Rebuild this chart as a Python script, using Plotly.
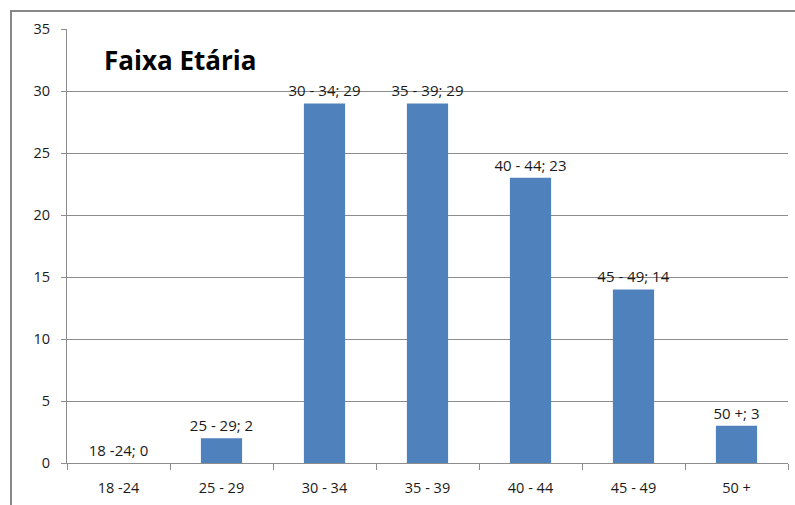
import plotly.graph_objects as go

categories = ["18 -24", "25 - 29", "30 - 34", "35 - 39", "40 - 44", "45 - 49", "50 +"]
values = [0, 2, 29, 29, 23, 14, 3]
y_ticks = [0, 5, 10, 15, 20, 25, 30, 35]
title_text = "Faixa Etária"

FONT = "Open Sans, DejaVu Sans, sans-serif"
labels = [f"{c}; {v}" for c, v in zip(categories, values)]
TXT = "#1a1a1a"

fig = go.Figure(go.Bar(
    x=categories, y=values,
    marker=dict(color="#4F81BD", line=dict(width=0)),
    text=labels, textposition="outside", cliponaxis=False, constraintext="none",
    textfont=dict(family=FONT, size=15, color=TXT),
))

fig.update_layout(
    width=795, height=505,
    margin=dict(l=67, r=7, t=29, b=42),
    paper_bgcolor="white", plot_bgcolor="white",
    bargap=0.6, showlegend=False,
    font=dict(family=FONT, size=14.5, color=TXT),
    xaxis=dict(
        type="category", showgrid=False, showline=True, linecolor="#8c8c8c", linewidth=1,
        ticks="outside", tickson="boundaries", ticklen=6, tickcolor="#8c8c8c",
        ticklabelstandoff=12,
        tickfont=dict(family=FONT, size=14.5, color=TXT),
    ),
    yaxis=dict(
        range=[0, 35], tickvals=y_ticks, showgrid=True, gridcolor="#8c8c8c", gridwidth=1,
        showline=True, linecolor="#8c8c8c", linewidth=1, zeroline=False,
        ticks="outside", ticklen=5, tickcolor="#8c8c8c",
        ticklabelstandoff=8,
        tickfont=dict(family=FONT, size=14.5, color=TXT),
    ),
    shapes=[dict(type="rect", xref="paper", yref="paper",
                 x0=(11 - 67) / 721, x1=1.1, y0=-0.3, y1=(463 - 11) / 434,
                 line=dict(color="#888888", width=2), layer="below")],
    annotations=[dict(text=f"<b>{title_text}</b>", xref="paper", yref="paper",
                      x=(102 - 67) / 721, y=(463 - 60) / 434, xanchor="left", yanchor="middle",
                      showarrow=False, font=dict(family=FONT, size=26, color="black"))],
)

fig.write_html("out.html")
